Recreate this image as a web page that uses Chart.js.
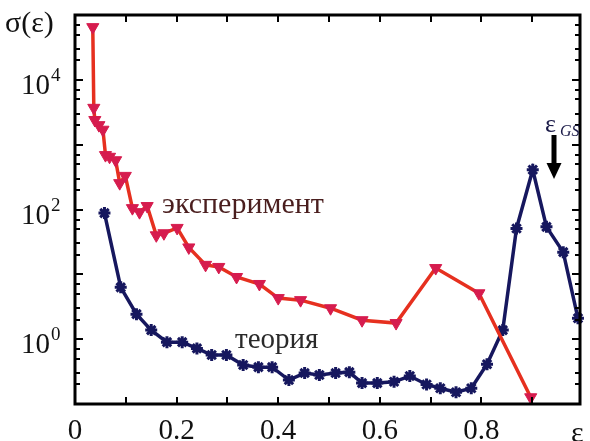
<!DOCTYPE html>
<html><head><meta charset="utf-8">
<script src="https://cdn.jsdelivr.net/npm/chart.js@4.4.0/dist/chart.umd.min.js"></script>
<style>html,body{margin:0;padding:0;background:#fff;} canvas{display:block;}</style>
</head><body>
<canvas id="c" width="590" height="441"></canvas>
<script>
// experiment (эксперимент)
const expEps   = [0.035, 0.037, 0.039, 0.047, 0.055, 0.060, 0.068, 0.080, 0.088, 0.099, 0.113, 0.127, 0.142, 0.160, 0.175, 0.201, 0.224, 0.257, 0.283, 0.318, 0.363, 0.400, 0.444, 0.503, 0.565, 0.632, 0.710, 0.795, 0.897];
const expSigma = [65000, 3700, 2400, 2000, 1700, 690, 650, 575, 255, 330, 105, 91, 113, 40, 43, 52, 26, 14, 13, 9.1, 7.1, 4.3, 4.0, 3.0, 1.96, 1.77, 12.5, 5.1, 0.127];
// theory (теория)
const theoEps   = [0.058, 0.090, 0.121, 0.150, 0.181, 0.211, 0.240, 0.269, 0.298, 0.331, 0.361, 0.388, 0.421, 0.452, 0.481, 0.513, 0.540, 0.565, 0.595, 0.628, 0.659, 0.692, 0.719, 0.750, 0.780, 0.811, 0.842, 0.869, 0.901, 0.928, 0.961, 0.990];
const theoSigma = [88, 6.3, 2.43, 1.38, 0.90, 0.90, 0.72, 0.57, 0.57, 0.40, 0.37, 0.37, 0.234, 0.30, 0.28, 0.30, 0.31, 0.21, 0.21, 0.22, 0.27, 0.20, 0.175, 0.152, 0.175, 0.41, 1.38, 51, 410, 54, 22, 2.1];
// tick labels
const xTickValues = [0, 0.2, 0.4, 0.6, 0.8];
const xTickLabels = ['0', '0.2', '0.4', '0.6', '0.8'];
const yTickExponents = [0, 2, 4];
const xMinorTicks = [0.1, 0.2, 0.3, 0.4, 0.5, 0.6, 0.7, 0.8, 0.9];
const yMinorMantissas = [2, 3, 5, 7];

const SERIF = '"Liberation Serif", "DejaVu Serif", serif';

const framePlugin = {
  id: 'frame',
  afterDraw(chart) {
    const ctx = chart.ctx, a = chart.chartArea;
    const xs = chart.scales.x, ys = chart.scales.y;
    ctx.save();
    ctx.strokeStyle = '#000';
    ctx.lineWidth = 3;
    ctx.strokeRect(a.left, a.top, a.right - a.left, a.bottom - a.top);
    ctx.lineWidth = 2;
    ctx.beginPath();
    xMinorTicks.forEach(v => {
      const px = Math.round(xs.getPixelForValue(v));
      ctx.moveTo(px, a.bottom); ctx.lineTo(px, a.bottom - 7);
      ctx.moveTo(px, a.top); ctx.lineTo(px, a.top + 7);
    });
    for (let e = -1; e <= 5; e++) {
      const py = Math.round(ys.getPixelForValue(Math.pow(10, e)));
      ctx.moveTo(a.left, py); ctx.lineTo(a.left + 8, py);
      ctx.moveTo(a.right, py); ctx.lineTo(a.right - 8, py);
      if (e < 5) yMinorMantissas.forEach(m => {
        const q = Math.round(ys.getPixelForValue(m * Math.pow(10, e)));
        ctx.moveTo(a.left, q); ctx.lineTo(a.left + 5, q);
        ctx.moveTo(a.right, q); ctx.lineTo(a.right - 5, q);
      });
    }
    ctx.stroke();

    // y tick labels 10^n
    ctx.fillStyle = '#111';
    ctx.textBaseline = 'alphabetic';
    yTickExponents.forEach(e => {
      const py = ys.getPixelForValue(Math.pow(10, e));
      ctx.font = '29px ' + SERIF;
      ctx.textAlign = 'left';
      ctx.fillText('10', 21, py + 14);
      ctx.font = '19px ' + SERIF;
      ctx.fillText(String(e), 51, py + 1);
    });

    // axis titles
    ctx.font = '30px ' + SERIF;
    ctx.fillText('σ(ε)', 5, 32);
    ctx.fillText('ε', 571, 442);

    // series labels
    ctx.font = '30px ' + SERIF;
    ctx.fillStyle = '#4a1e1e';
    ctx.fillText('эксперимент', 162, 213);
    ctx.font = '29px ' + SERIF;
    ctx.fillStyle = '#2a2a2a';
    ctx.fillText('теория', 235, 348);

    // ε_GS with arrow
    ctx.fillStyle = '#1a1a48';
    ctx.font = '26px ' + SERIF;
    ctx.fillText('ε', 545, 132);
    ctx.font = 'italic 16px ' + SERIF;
    ctx.fillText('GS', 560, 136);
    ctx.fillStyle = '#000';
    ctx.fillRect(551.5, 135, 5, 30);
    ctx.beginPath();
    ctx.moveTo(546.5, 163); ctx.lineTo(561.5, 163); ctx.lineTo(554, 179); ctx.closePath();
    ctx.fill();
    ctx.restore();
  }
};

new Chart(document.getElementById('c'), {
  type: 'line',
  data: {
    datasets: [
      {
        label: 'эксперимент',
        data: expEps.map((x, i) => ({ x, y: expSigma[i] })),
        borderColor: '#e6301f', borderWidth: 3.5,
        pointStyle: 'triangle', rotation: 180, pointRadius: 7,
        pointBackgroundColor: '#d61c4e', pointBorderColor: '#d61c4e', pointBorderWidth: 1,
        tension: 0, clip: false
      },
      {
        label: 'теория',
        data: theoEps.map((x, i) => ({ x, y: theoSigma[i] })),
        borderColor: '#16175e', borderWidth: 3.5,
        pointStyle: 'star', pointRadius: 6,
        pointBackgroundColor: '#16175e', pointBorderColor: '#16175e', pointBorderWidth: 3,
        tension: 0, clip: false
      }
    ]
  },
  options: {
    responsive: false, animation: false, devicePixelRatio: 1,
    layout: { padding: { top: 15, right: 4, left: 0, bottom: 0 } },
    plugins: { legend: { display: false }, tooltip: { enabled: false } },
    scales: {
      x: {
        type: 'linear', min: 0, max: 0.994,
        grid: { display: false, drawTicks: false }, border: { display: false },
        ticks: {
          stepSize: 0.1, autoSkip: false, maxRotation: 0, padding: 10, color: '#111',
          font: { family: SERIF, size: 29 },
          callback: (v) => {
            const i = xTickValues.findIndex(t => Math.abs(t - v) < 1e-6);
            return i >= 0 ? xTickLabels[i] : '';
          }
        },
        afterFit: (s) => { s.height = 37; }
      },
      y: {
        type: 'logarithmic', min: 0.1, max: 1e5,
        grid: { display: false, drawTicks: false }, border: { display: false },
        ticks: { display: false },
        afterFit: (s) => { s.width = 75; }
      }
    }
  },
  plugins: [framePlugin]
});
</script>
</body></html>
